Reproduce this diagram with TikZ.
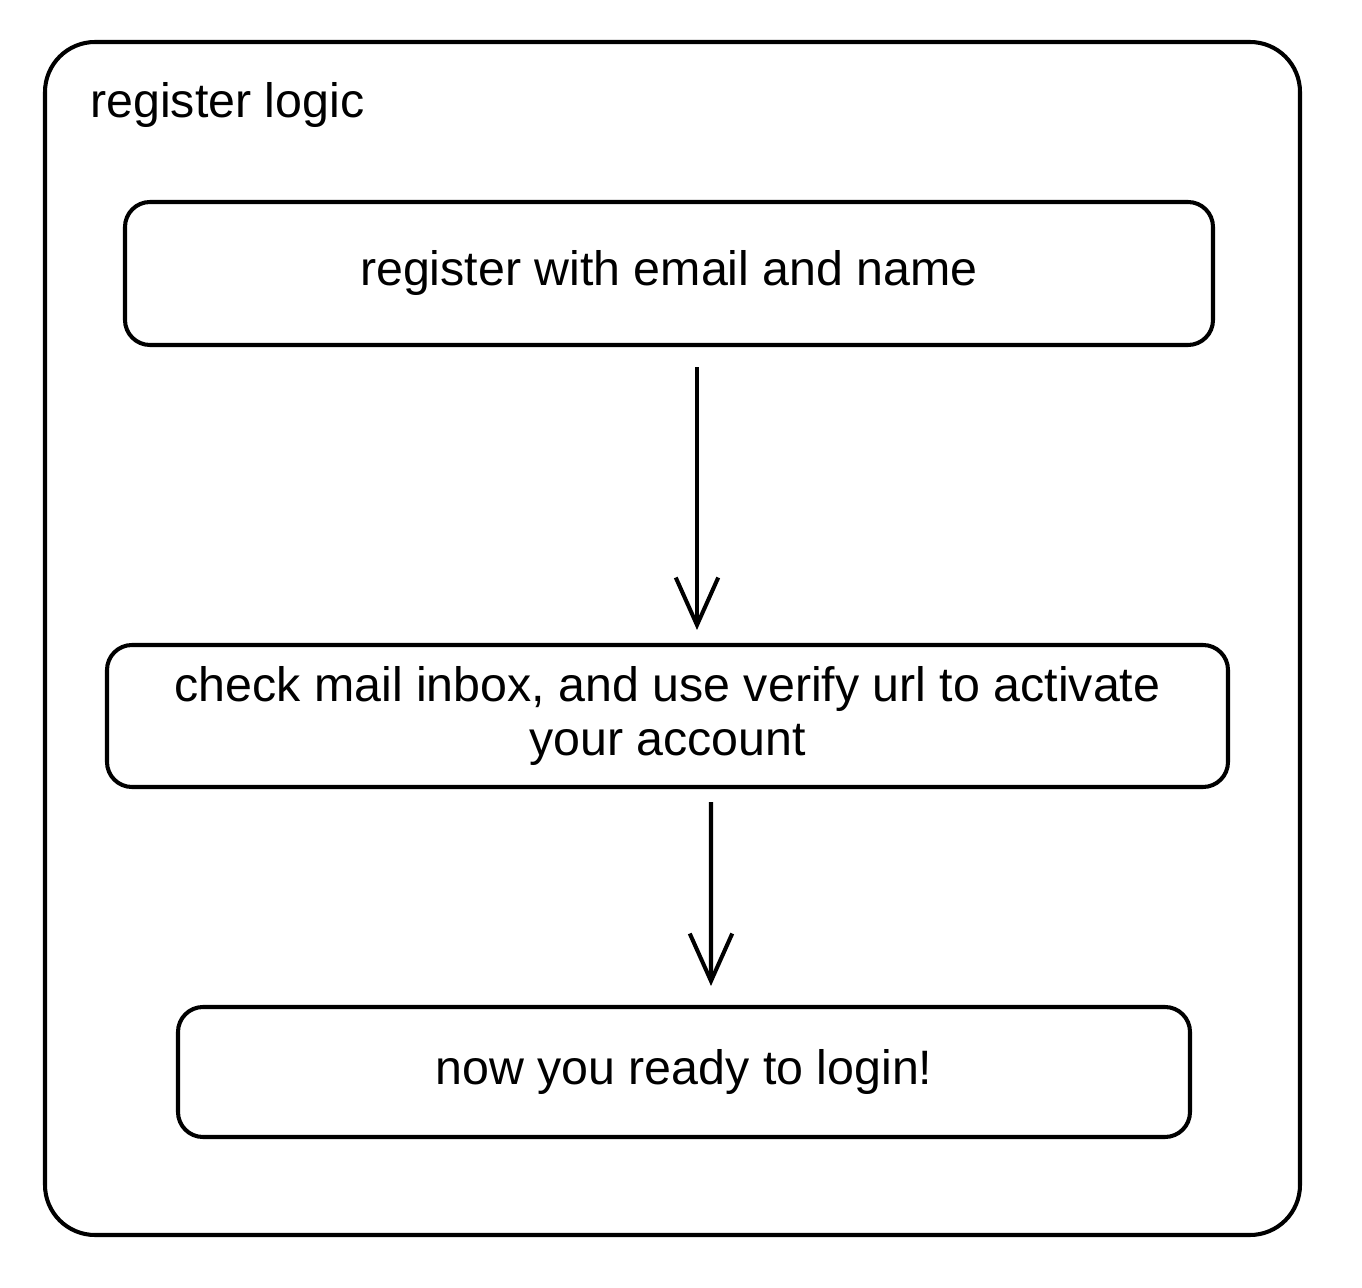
\documentclass[tikz,border=0pt]{standalone}
\usepackage{fontspec}
\setmainfont{Liberation Sans}
\usetikzlibrary{positioning,shapes,arrows.meta}

\tikzset{
  stepbox/.style={rectangle, draw=black, line width=2.3pt, rounded corners=0.5cm, align=center},
  flow/.style={line width=2.3pt, -{Straight Barb[length=0.95cm,width=0.85cm,line width=2.3pt]}},
}

\begin{document}
\begin{tikzpicture}
      \fontsize{27.5}{31}\selectfont
      %\draw[help lines] (0, -26) grid (28, 0);
      \useasboundingbox (0, 0) rectangle (27.24, -25.76);

      % outer frame
      \node [rectangle, draw=black, line width=2.3pt, rounded corners=1cm, minimum width=25.1cm, minimum height=23.86cm] (frame) at (13.45, -12.77) {};
      \node [anchor=base west, inner sep=0pt] (title) at (1.8, -2.35) {register logic};

      \node [stepbox, minimum width=21.76cm, minimum height=2.86cm] (reg) at (13.38, -5.47) {register with email and name};
      \node [stepbox, minimum width=22.42cm, minimum height=2.84cm] (mail) at (13.35, -14.32) {check mail inbox, and use verify url to activate\\your account};
      \node [stepbox, minimum width=20.24cm, minimum height=2.6cm] (login) at (13.68, -21.44) {now you ready to login!};

      \draw[flow, shorten <=0.4cm, shorten >=0.26cm] ([xshift=0.56cm]reg.south) -- ([xshift=0.59cm]mail.north);
      \draw[flow, shorten <=0.26cm, shorten >=0.38cm] ([xshift=0.87cm]mail.south) -- ([xshift=0.54cm]login.north);

\end{tikzpicture}
\end{document}
